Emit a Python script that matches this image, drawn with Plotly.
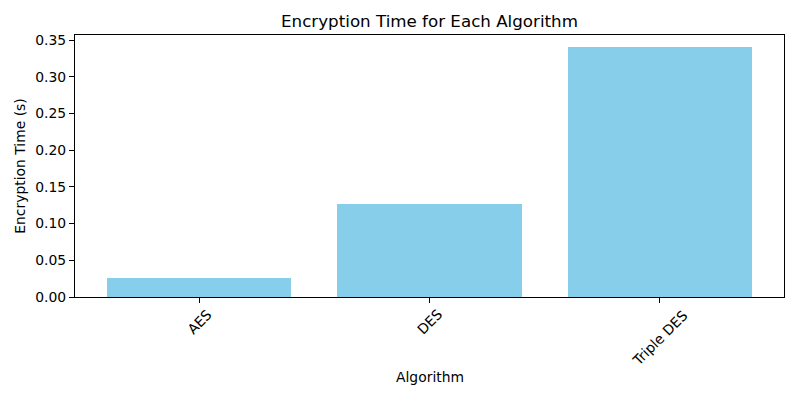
import plotly.graph_objects as go

algorithms = ["AES", "DES", "Triple DES"]
enc_times = [0.0265, 0.1267, 0.340]

FONT = "DejaVu Sans"
fig = go.Figure()
fig.add_trace(go.Bar(x=list(range(len(algorithms))), y=enc_times, width=0.8,
                     marker=dict(color="#87CEEB", line=dict(width=0))))

ymax = max(enc_times) * 1.05
for i, name in enumerate(algorithms):
    fig.add_annotation(x=i, y=0, xref="x", yref="paper", yshift=-7,
                       text=name, textangle=-45, showarrow=False,
                       xanchor="center", yanchor="top",
                       font=dict(family=FONT, size=13.9, color="black"))

fig.add_annotation(x=0.5, y=0, xref="x domain", yref="paper", yshift=-80,
                   text="Algorithm", showarrow=False, xanchor="center", yanchor="middle",
                   font=dict(family=FONT, size=13.9, color="black"))

fig.update_layout(
    width=800, height=400,
    margin=dict(l=75, r=16, t=35, b=103),
    plot_bgcolor="white", paper_bgcolor="white",
    font=dict(family=FONT, color="black"),
    title=dict(text="Encryption Time for Each Algorithm", x=(75 + 784) / 2 / 800,
               xanchor="center", y=1 - 21 / 400, yanchor="middle",
               font=dict(family=FONT, size=16.7, color="black")),
    showlegend=False, bargap=0,
)
fig.update_xaxes(range=[-0.54, 2.54], showline=True, linecolor="black", linewidth=1,
                 mirror=True, ticks="outside", ticklen=5, tickcolor="black",
                 tickvals=list(range(len(algorithms))), showticklabels=False,
                 showgrid=False, zeroline=False)
fig.update_yaxes(range=[0, ymax], showline=True, linecolor="black", linewidth=1,
                 mirror=True, ticks="outside", ticklen=5, tickcolor="black",
                 dtick=0.05, tick0=0, tickformat=".2f", showgrid=False, zeroline=False,
                 tickfont=dict(family=FONT, size=13.9),
                 title=dict(text="Encryption Time (s)", font=dict(family=FONT, size=13.9), standoff=6))
fig.write_html("out.html")
